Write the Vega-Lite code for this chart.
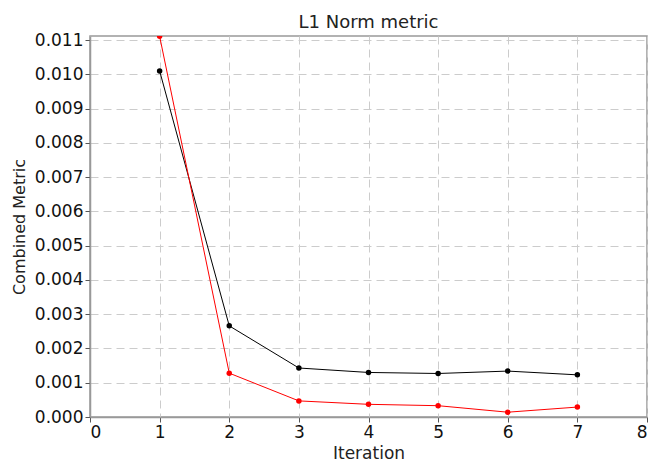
{
  "$schema": "https://vega.github.io/schema/vega-lite/v6.json",
  "width": 557,
  "height": 381,
  "autosize": {"type": "none"},
  "padding": {"left": 90, "top": 36, "right": 4, "bottom": 45},
  "background": "white",
  "title": {"text": "L1 Norm metric", "fontSize": 18, "font": "DejaVu Sans", "fontWeight": "normal", "color": "#222", "offset": -1},
  "config": {
    "view": {"stroke": "#999", "strokeWidth": 1.5},
    "font": "DejaVu Sans"
  },
  "data": {"values": [
    {"iter": 1, "v": 0.0101, "s": "A"},
    {"iter": 2, "v": 0.00266, "s": "A"},
    {"iter": 3, "v": 0.00143, "s": "A"},
    {"iter": 4, "v": 0.00130, "s": "A"},
    {"iter": 5, "v": 0.00127, "s": "A"},
    {"iter": 6, "v": 0.00134, "s": "A"},
    {"iter": 7, "v": 0.00123, "s": "A"},
    {"iter": 1, "v": 0.01111, "s": "B"},
    {"iter": 2, "v": 0.00128, "s": "B"},
    {"iter": 3, "v": 0.00047, "s": "B"},
    {"iter": 4, "v": 0.00037, "s": "B"},
    {"iter": 5, "v": 0.00033, "s": "B"},
    {"iter": 6, "v": 0.00014, "s": "B"},
    {"iter": 7, "v": 0.00029, "s": "B"}
  ]},
  "encoding": {
    "x": {"field": "iter", "type": "quantitative",
      "scale": {"domain": [0, 8], "nice": false},
      "axis": {"title": "Iteration", "values": [0,1,2,3,4,5,6,7,8], "format": "d",
        "labelFontSize": 17, "titleFontSize": 17, "titleFontWeight": "normal", "titleColor": "#222", "labelColor": "#111",
        "domainColor": "#999", "domainWidth": 1.5, "tickColor": "#555", "tickSize": 5,
        "gridColor": "#ccc", "gridDash": [8, 5], "gridWidth": 1, "titlePadding": 5, "labelPadding": 2}},
    "y": {"field": "v", "type": "quantitative",
      "scale": {"domain": [0, 0.01112], "nice": false, "zero": true},
      "axis": {"title": "Combined Metric", "values": [0,0.001,0.002,0.003,0.004,0.005,0.006,0.007,0.008,0.009,0.010,0.011], "format": ".3f",
        "labelFontSize": 17, "titleFontSize": 16, "titleFontWeight": "normal", "titleColor": "#222", "labelColor": "#111",
        "domainColor": "#999", "domainWidth": 1.5, "tickColor": "#555", "tickSize": 5,
        "gridColor": "#ccc", "gridDash": [8, 5], "gridWidth": 1, "titlePadding": 7, "labelPadding": 2}},
    "color": {"field": "s", "type": "nominal", "scale": {"domain": ["A", "B"], "range": ["#000000", "#ff0000"]}, "legend": null}
  },
  "layer": [
    {"mark": {"type": "line", "strokeWidth": 1, "clip": true}},
    {"mark": {"type": "point", "filled": true, "size": 30, "opacity": 1, "clip": true}}
  ]
}
